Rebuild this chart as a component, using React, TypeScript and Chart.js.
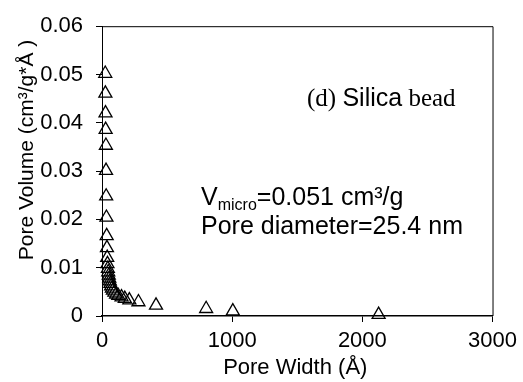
import React, { useEffect, useRef } from "react";
import { Chart, registerables } from "chart.js";

Chart.register(...registerables);

// Pore width (Å)
const poreWidth = [
  25, 26, 27, 28, 30, 31, 32, 34, 36, 38, 40, 42, 45, 48, 52, 56, 60, 65, 70,
  76, 84, 95, 108, 125, 150, 175, 210, 280, 415, 800, 1005, 2125,
];
// Pore volume (cm3/g*Å)
const poreVolume = [
  0.0502, 0.0461, 0.042, 0.0386, 0.0353, 0.0301, 0.0248, 0.0204, 0.0166,
  0.0141, 0.0121, 0.0108, 0.0098, 0.0091, 0.0084, 0.0078, 0.0072, 0.0067,
  0.0062, 0.0057, 0.0053, 0.0049, 0.0045, 0.0042, 0.0039, 0.0036, 0.0033,
  0.0029, 0.0022, 0.0015, 0.001, 0.0003,
];
const xTickValues = [0, 1000, 2000, 3000];
const yTickValues = [0, 0.01, 0.02, 0.03, 0.04, 0.05, 0.06];

const xTitle = "Pore Width (Å)";
const yTitle = "Pore Volume (cm³/g*Å )";
const labelPrefix = "(d) ";
const labelMaterial = "Silica";
const labelSuffix = " bead";
const vMain = "V";
const vSub = "micro";
const vRest = "=0.051 cm³/g";
const diameterText = "Pore diameter=25.4 nm";

const SANS = "'Liberation Sans', Arial, sans-serif";
const SERIF = "'Liberation Serif', 'Times New Roman', serif";

const overlay = {
  id: "overlay",
  afterDraw(chart: any) {
    const { ctx, chartArea: a } = chart;
    ctx.save();
    // top and right border of plot area
    ctx.strokeStyle = "#000";
    ctx.lineWidth = 1;
    ctx.beginPath();
    ctx.moveTo(a.left, a.top + 0.5);
    ctx.lineTo(a.right + 0.5, a.top + 0.5);
    ctx.lineTo(a.right + 0.5, a.bottom);
    ctx.stroke();

    ctx.fillStyle = "#000";
    ctx.textBaseline = "alphabetic";

    // axis titles
    ctx.font = `22px ${SANS}`;
    ctx.textAlign = "center";
    ctx.fillText(xTitle, (a.left + a.right) / 2 - 2, 374);
    ctx.save();
    ctx.font = `21px ${SANS}`;
    ctx.translate(33, 150);
    ctx.rotate(-Math.PI / 2);
    ctx.fillText(yTitle, 0, 0);
    ctx.restore();

    // (d) Silica bead
    ctx.textAlign = "left";
    let x = 307;
    const yb = 106;
    ctx.font = `25px ${SERIF}`;
    ctx.fillText(labelPrefix, x, yb);
    x += ctx.measureText(labelPrefix).width;
    ctx.font = `25px ${SANS}`;
    ctx.fillText(labelMaterial, x, yb);
    x += ctx.measureText(labelMaterial).width;
    ctx.font = `25px ${SERIF}`;
    ctx.fillText(labelSuffix, x, yb);

    // V_micro line
    x = 201;
    ctx.font = `25px ${SANS}`;
    ctx.fillText(vMain, x, 205);
    x += ctx.measureText(vMain).width;
    ctx.font = `16px ${SANS}`;
    ctx.fillText(vSub, x, 210);
    x += ctx.measureText(vSub).width;
    ctx.font = `25px ${SANS}`;
    ctx.fillText(vRest, x, 205);

    ctx.fillText(diameterText, 201, 234);
    ctx.restore();
  },
};

export default function App() {
  const ref = useRef<HTMLCanvasElement | null>(null);

  useEffect(() => {
    if (!ref.current) return;
    const chart = new Chart(ref.current, {
      type: "scatter",
      data: {
        datasets: [
          {
            data: poreWidth.map((w, i) => ({ x: w, y: poreVolume[i] })),
            pointStyle: "triangle",
            pointRadius: 7.5,
            pointBorderColor: "#000",
            pointBackgroundColor: "rgba(0,0,0,0)",
            pointBorderWidth: 1.3,
            showLine: false,
            clip: false,
          } as any,
        ],
      },
      options: {
        animation: false,
        responsive: false,
        devicePixelRatio: 1,
        layout: { padding: { top: 24, right: 30, left: 0, bottom: 0 } },
        plugins: {
          legend: { display: false },
          tooltip: { enabled: false },
        },
        scales: {
          x: {
            type: "linear",
            min: 0,
            max: 3000,
            afterFit: (s: any) => {
              s.height = 66;
            },
            afterBuildTicks: (s: any) => {
              s.ticks = xTickValues.map((v) => ({ value: v }));
            },
            ticks: {
              color: "#000",
              font: { family: SANS, size: 22 },
              padding: 6,
              maxRotation: 0,
              callback: (v: any) => String(v),
            },
            grid: {
              drawOnChartArea: false,
              drawTicks: true,
              tickLength: 6,
              color: "#000",
              lineWidth: 1,
            },
            border: { color: "#000", width: 1.5 },
          },
          y: {
            type: "linear",
            min: 0,
            max: 0.06,
            afterFit: (s: any) => {
              s.width = 102;
            },
            afterBuildTicks: (s: any) => {
              s.ticks = yTickValues.map((v) => ({ value: v }));
            },
            ticks: {
              color: "#000",
              font: { family: SANS, size: 22 },
              padding: 13,
              callback: (v: any) => (v === 0 ? "0" : Number(v).toFixed(2)),
            },
            grid: {
              drawOnChartArea: false,
              drawTicks: true,
              tickLength: 6,
              color: "#000",
              lineWidth: 1,
            },
            border: { color: "#000", width: 1 },
          },
        },
      },
      plugins: [overlay],
    });
    return () => chart.destroy();
  }, []);

  return (
    <div style={{ position: "absolute", left: 0, top: 0, width: 523, height: 382, background: "#fff" }}>
      <canvas ref={ref} width={523} height={382} style={{ display: "block" }} />
    </div>
  );
}
